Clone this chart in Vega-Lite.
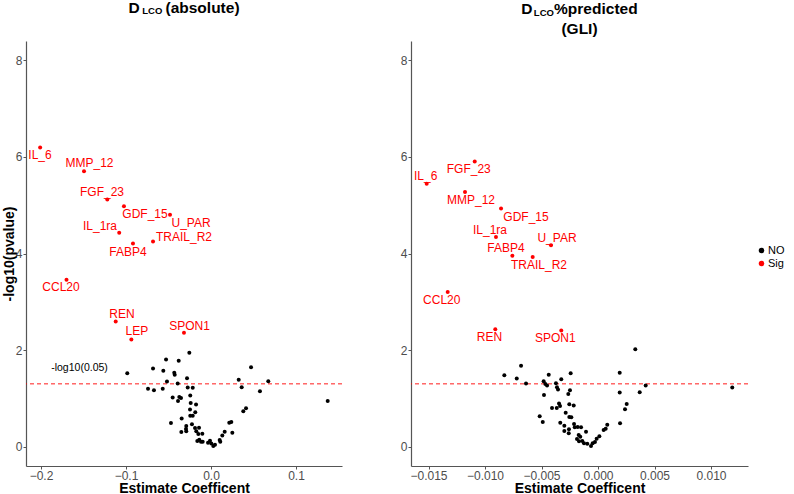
{
  "$schema": "https://vega.github.io/schema/vega-lite/v6.json",
  "background": "white",
  "padding": {"left": 2, "top": 0, "right": 2, "bottom": 2},
  "config": {
    "font": "Liberation Sans",
    "view": {"stroke": null},
    "axis": {
      "grid": false,
      "domainColor": "#555555",
      "domainWidth": 1.2,
      "tickColor": "#555555",
      "tickSize": 3,
      "labelColor": "#4D4D4D",
      "labelFont": "Liberation Sans",
      "labelFontSize": 12,
      "labelPadding": 1,
      "titleFont": "Liberation Sans",
      "titleFontSize": 14,
      "titleFontWeight": "bold",
      "titleColor": "black"
    },
    "title": {
      "font": "Liberation Sans",
      "fontSize": 15.5,
      "fontWeight": "bold",
      "color": "black",
      "subtitleFont": "Liberation Sans",
      "subtitleFontSize": 9.5,
      "subtitleFontWeight": "bold",
      "subtitleColor": "black",
      "anchor": "middle",
      "lineHeight": 19.5
    },
    "legend": {
      "labelFont": "Liberation Sans",
      "labelFontSize": 11,
      "labelColor": "black"
    }
  },
  "datasets": {
    "absolute": [
      {"protein": "IL_6", "est": -0.201, "logp": 6.197, "sig": "Sig", "lx": -0.2012, "ly": 6.037},
      {"protein": "MMP_12", "est": -0.1494, "logp": 5.705, "sig": "Sig", "lx": -0.1429, "ly": 5.871},
      {"protein": "FGF_23", "est": -0.122, "logp": 5.118, "sig": "Sig", "lx": -0.1282, "ly": 5.27},
      {"protein": "GDF_15", "est": -0.1024, "logp": 4.98, "sig": "Sig", "lx": -0.0776, "ly": 4.813},
      {"protein": "U_PAR", "est": -0.0482, "logp": 4.8, "sig": "Sig", "lx": -0.0235, "ly": 4.633},
      {"protein": "IL_1ra", "est": -0.108, "logp": 4.43, "sig": "Sig", "lx": -0.1306, "ly": 4.564},
      {"protein": "TRAIL_R2", "est": -0.0682, "logp": 4.246, "sig": "Sig", "lx": -0.0318, "ly": 4.342},
      {"protein": "FABP4", "est": -0.0918, "logp": 4.205, "sig": "Sig", "lx": -0.0976, "ly": 4.025},
      {"protein": "CCL20", "est": -0.17, "logp": 3.458, "sig": "Sig", "lx": -0.1765, "ly": 3.305},
      {"protein": "REN", "est": -0.1121, "logp": 2.593, "sig": "Sig", "lx": -0.1047, "ly": 2.745},
      {"protein": "LEP", "est": -0.0937, "logp": 2.22, "sig": "Sig", "lx": -0.0871, "ly": 2.386},
      {"protein": "SPON1", "est": -0.0318, "logp": 2.359, "sig": "Sig", "lx": -0.0253, "ly": 2.504},
      {"est": -0.0985, "logp": 1.521, "sig": "NO"},
      {"est": -0.0682, "logp": 1.618, "sig": "NO"},
      {"est": -0.0529, "logp": 1.805, "sig": "NO"},
      {"est": -0.038, "logp": 1.778, "sig": "NO"},
      {"est": -0.0255, "logp": 1.944, "sig": "NO"},
      {"est": -0.0561, "logp": 1.571, "sig": "NO"},
      {"est": -0.0432, "logp": 1.529, "sig": "NO"},
      {"est": -0.0427, "logp": 1.488, "sig": "NO"},
      {"est": -0.0282, "logp": 1.417, "sig": "NO"},
      {"est": -0.0518, "logp": 1.349, "sig": "NO"},
      {"est": -0.0392, "logp": 1.307, "sig": "NO"},
      {"est": -0.0741, "logp": 1.197, "sig": "NO"},
      {"est": -0.0671, "logp": 1.168, "sig": "NO"},
      {"est": -0.0568, "logp": 1.197, "sig": "NO"},
      {"est": -0.0274, "logp": 1.224, "sig": "NO"},
      {"est": -0.0215, "logp": 1.218, "sig": "NO"},
      {"est": -0.0451, "logp": 1.017, "sig": "NO"},
      {"est": -0.0373, "logp": 1.031, "sig": "NO"},
      {"est": -0.0353, "logp": 1.01, "sig": "NO"},
      {"est": -0.0388, "logp": 0.948, "sig": "NO"},
      {"est": -0.0244, "logp": 1.058, "sig": "NO"},
      {"est": -0.0239, "logp": 0.907, "sig": "NO"},
      {"est": -0.0176, "logp": 0.871, "sig": "NO"},
      {"est": -0.0247, "logp": 0.768, "sig": "NO"},
      {"est": -0.0185, "logp": 0.712, "sig": "NO"},
      {"est": -0.0244, "logp": 0.643, "sig": "NO"},
      {"est": -0.0215, "logp": 0.643, "sig": "NO"},
      {"est": -0.0345, "logp": 0.581, "sig": "NO"},
      {"est": -0.0471, "logp": 0.492, "sig": "NO"},
      {"est": -0.0224, "logp": 0.463, "sig": "NO"},
      {"est": -0.0291, "logp": 0.429, "sig": "NO"},
      {"est": -0.0294, "logp": 0.367, "sig": "NO"},
      {"est": -0.0188, "logp": 0.388, "sig": "NO"},
      {"est": -0.0141, "logp": 0.394, "sig": "NO"},
      {"est": -0.0349, "logp": 0.305, "sig": "NO"},
      {"est": -0.0291, "logp": 0.317, "sig": "NO"},
      {"est": -0.0173, "logp": 0.317, "sig": "NO"},
      {"est": -0.0149, "logp": 0.263, "sig": "NO"},
      {"est": -0.0102, "logp": 0.27, "sig": "NO"},
      {"est": -0.0138, "logp": 0.145, "sig": "NO"},
      {"est": -0.0118, "logp": 0.104, "sig": "NO"},
      {"est": -0.0161, "logp": 0.118, "sig": "NO"},
      {"est": -0.0098, "logp": 0.104, "sig": "NO"},
      {"est": -0.0035, "logp": 0.083, "sig": "NO"},
      {"est": 0.0004, "logp": 0.068, "sig": "NO"},
      {"est": -0.0012, "logp": 0.124, "sig": "NO"},
      {"est": 0.0027, "logp": 0.015, "sig": "NO"},
      {"est": 0.0047, "logp": 0.041, "sig": "NO"},
      {"est": 0.0102, "logp": 0.139, "sig": "NO"},
      {"est": 0.0109, "logp": 0.104, "sig": "NO"},
      {"est": 0.0161, "logp": 0.311, "sig": "NO"},
      {"est": 0.0133, "logp": 0.234, "sig": "NO"},
      {"est": 0.0215, "logp": 0.498, "sig": "NO"},
      {"est": 0.0239, "logp": 0.512, "sig": "NO"},
      {"est": 0.0251, "logp": 0.29, "sig": "NO"},
      {"est": 0.0326, "logp": 1.384, "sig": "NO"},
      {"est": 0.0361, "logp": 1.23, "sig": "NO"},
      {"est": 0.038, "logp": 0.732, "sig": "NO"},
      {"est": 0.0412, "logp": 0.795, "sig": "NO"},
      {"est": 0.0471, "logp": 1.645, "sig": "NO"},
      {"est": 0.0576, "logp": 1.147, "sig": "NO"},
      {"est": 0.0674, "logp": 1.355, "sig": "NO"},
      {"est": 0.1373, "logp": 0.948, "sig": "NO"}
    ],
    "predicted": [
      {"protein": "FGF_23", "est": -0.01091, "logp": 5.907, "sig": "Sig", "lx": -0.01144, "ly": 5.741},
      {"protein": "IL_6", "est": -0.01516, "logp": 5.442, "sig": "Sig", "lx": -0.01525, "ly": 5.595},
      {"protein": "MMP_12", "est": -0.01177, "logp": 5.276, "sig": "Sig", "lx": -0.01124, "ly": 5.104},
      {"protein": "GDF_15", "est": -0.00858, "logp": 4.931, "sig": "Sig", "lx": -0.00637, "ly": 4.766},
      {"protein": "IL_1ra", "est": -0.00903, "logp": 4.343, "sig": "Sig", "lx": -0.00956, "ly": 4.481},
      {"protein": "U_PAR", "est": -0.00416, "logp": 4.17, "sig": "Sig", "lx": -0.00363, "ly": 4.322},
      {"protein": "FABP4", "est": -0.00758, "logp": 3.956, "sig": "Sig", "lx": -0.00814, "ly": 4.114},
      {"protein": "TRAIL_R2", "est": -0.00578, "logp": 3.928, "sig": "Sig", "lx": -0.00522, "ly": 3.761},
      {"protein": "CCL20", "est": -0.0133, "logp": 3.202, "sig": "Sig", "lx": -0.01383, "ly": 3.029},
      {"protein": "REN", "est": -0.00909, "logp": 2.434, "sig": "Sig", "lx": -0.0096, "ly": 2.268},
      {"protein": "SPON1", "est": -0.00325, "logp": 2.407, "sig": "Sig", "lx": -0.00378, "ly": 2.255},
      {"est": -0.00829, "logp": 1.479, "sig": "NO"},
      {"est": -0.00719, "logp": 1.411, "sig": "NO"},
      {"est": -0.00681, "logp": 1.674, "sig": "NO"},
      {"est": -0.00637, "logp": 1.307, "sig": "NO"},
      {"est": -0.00481, "logp": 1.355, "sig": "NO"},
      {"est": -0.00436, "logp": 1.487, "sig": "NO"},
      {"est": -0.00466, "logp": 1.3, "sig": "NO"},
      {"est": -0.00451, "logp": 1.266, "sig": "NO"},
      {"est": -0.00372, "logp": 1.314, "sig": "NO"},
      {"est": -0.00325, "logp": 1.397, "sig": "NO"},
      {"est": -0.00242, "logp": 1.521, "sig": "NO"},
      {"est": -0.00363, "logp": 1.231, "sig": "NO"},
      {"est": -0.00354, "logp": 1.183, "sig": "NO"},
      {"est": -0.00478, "logp": 1.072, "sig": "NO"},
      {"est": -0.00263, "logp": 1.093, "sig": "NO"},
      {"est": -0.00248, "logp": 1.168, "sig": "NO"},
      {"est": -0.00407, "logp": 0.803, "sig": "NO"},
      {"est": -0.00365, "logp": 0.803, "sig": "NO"},
      {"est": -0.00345, "logp": 0.892, "sig": "NO"},
      {"est": -0.00336, "logp": 0.844, "sig": "NO"},
      {"est": -0.00254, "logp": 0.878, "sig": "NO"},
      {"est": -0.00215, "logp": 0.851, "sig": "NO"},
      {"est": -0.00286, "logp": 0.705, "sig": "NO"},
      {"est": -0.00516, "logp": 0.629, "sig": "NO"},
      {"est": -0.00489, "logp": 0.512, "sig": "NO"},
      {"est": -0.00254, "logp": 0.616, "sig": "NO"},
      {"est": -0.00236, "logp": 0.608, "sig": "NO"},
      {"est": -0.00334, "logp": 0.498, "sig": "NO"},
      {"est": -0.00298, "logp": 0.436, "sig": "NO"},
      {"est": -0.00212, "logp": 0.471, "sig": "NO"},
      {"est": -0.00206, "logp": 0.401, "sig": "NO"},
      {"est": -0.00298, "logp": 0.326, "sig": "NO"},
      {"est": -0.00259, "logp": 0.276, "sig": "NO"},
      {"est": -0.00257, "logp": 0.359, "sig": "NO"},
      {"est": -0.0018, "logp": 0.408, "sig": "NO"},
      {"est": -0.0015, "logp": 0.401, "sig": "NO"},
      {"est": -0.00106, "logp": 0.311, "sig": "NO"},
      {"est": -0.00171, "logp": 0.242, "sig": "NO"},
      {"est": -0.00157, "logp": 0.207, "sig": "NO"},
      {"est": -0.00186, "logp": 0.159, "sig": "NO"},
      {"est": -0.00168, "logp": 0.11, "sig": "NO"},
      {"est": -0.00139, "logp": 0.118, "sig": "NO"},
      {"est": -0.00124, "logp": 0.069, "sig": "NO"},
      {"est": -0.00095, "logp": 0.062, "sig": "NO"},
      {"est": -0.00062, "logp": 0.014, "sig": "NO"},
      {"est": -0.00047, "logp": 0.069, "sig": "NO"},
      {"est": -0.00027, "logp": 0.097, "sig": "NO"},
      {"est": -0.00012, "logp": 0.166, "sig": "NO"},
      {"est": 0.00012, "logp": 0.214, "sig": "NO"},
      {"est": 0.0005, "logp": 0.346, "sig": "NO"},
      {"est": 0.00068, "logp": 0.373, "sig": "NO"},
      {"est": 0.00082, "logp": 0.456, "sig": "NO"},
      {"est": 0.00192, "logp": 1.529, "sig": "NO"},
      {"est": 0.00192, "logp": 1.12, "sig": "NO"},
      {"est": 0.00195, "logp": 0.484, "sig": "NO"},
      {"est": 0.00239, "logp": 0.774, "sig": "NO"},
      {"est": 0.00254, "logp": 0.886, "sig": "NO"},
      {"est": 0.0033, "logp": 2.019, "sig": "NO"},
      {"est": 0.00369, "logp": 1.127, "sig": "NO"},
      {"est": 0.00422, "logp": 1.266, "sig": "NO"},
      {"est": 0.01188, "logp": 1.224, "sig": "NO"}
    ],
    "threshold": [{"logp": 1.30103}]
  },
  "hconcat": [
    {
      "width": 316,
      "height": 425,
      "title": {
        "text": "D\u00a0\u00a0\u00a0\u00a0\u00a0\u00a0(absolute)",
        "subtitle": "LCO\u00a0\u00a0\u00a0\u00a0\u00a0\u00a0\u00a0\u00a0\u00a0\u00a0\u00a0\u00a0\u00a0\u00a0\u00a0\u00a0\u00a0\u00a0\u00a0\u00a0\u00a0\u00a0\u00a0\u00a0\u200b",
        "subtitlePadding": -10,
        "offset": 25
      },
      "layer": [
        {
          "data": {"name": "threshold"},
          "mark": {"type": "rule", "color": "#FF0000", "strokeDash": [4, 3], "strokeWidth": 0.9},
          "encoding": {
            "y": {"field": "logp", "type": "quantitative", "title": "-log10(pvalue)", "scale": {"domain": [-0.4, 8.4], "nice": false, "zero": false}}
          }
        },
        {
          "data": {"values": [{"est": -0.1547, "logp": 1.639, "label": "-log10(0.05)"}]},
          "mark": {"type": "text", "fontSize": 10.5, "color": "black", "font": "Liberation Sans"},
          "encoding": {
            "x": {"field": "est", "type": "quantitative", "title": "Estimate Coefficent", "scale": {"domain": [-0.21765, 0.15412], "nice": false, "zero": false}},
            "y": {"field": "logp", "type": "quantitative", "title": "-log10(pvalue)", "scale": {"domain": [-0.4, 8.4], "nice": false, "zero": false}},
            "text": {"field": "label"}
          }
        },
        {
          "data": {"name": "absolute"},
          "mark": {"type": "point", "filled": true, "size": 16, "opacity": 1, "strokeWidth": 0},
          "encoding": {
            "x": {"field": "est", "type": "quantitative", "title": "Estimate Coefficent", "scale": {"domain": [-0.21765, 0.15412], "nice": false, "zero": false}, "axis": {"values": [-0.2, -0.1, 0, 0.1], "format": ".1f", "titlePadding": 0}},
            "y": {"field": "logp", "type": "quantitative", "title": "-log10(pvalue)", "scale": {"domain": [-0.4, 8.4], "nice": false, "zero": false}, "axis": {"values": [0, 2, 4, 6, 8], "titlePadding": -1}},
            "color": {
              "field": "sig",
              "type": "nominal",
              "scale": {"domain": ["NO", "Sig"], "range": ["#000000", "#FF0000"]},
              "legend": {"title": null, "orient": "none", "legendX": 730, "legendY": 204, "symbolType": "circle", "symbolSize": 30, "rowPadding": 1, "labelOffset": 1}
            }
          }
        },
        {
          "data": {"name": "absolute"},
          "transform": [{"filter": "datum.sig === 'Sig'"}],
          "mark": {"type": "text", "fontSize": 12, "color": "#FF0000", "font": "Liberation Sans"},
          "encoding": {
            "x": {"field": "lx", "type": "quantitative", "title": "Estimate Coefficent", "scale": {"domain": [-0.21765, 0.15412], "nice": false, "zero": false}},
            "y": {"field": "ly", "type": "quantitative", "title": "-log10(pvalue)", "scale": {"domain": [-0.4, 8.4], "nice": false, "zero": false}},
            "text": {"field": "protein"}
          }
        }
      ]
    },
    {
      "width": 337,
      "height": 425,
      "title": {
        "text": ["D\u00a0\u00a0\u00a0\u00a0\u00a0%predicted", "(GLI)"],
        "subtitle": "LCO\u00a0\u00a0\u00a0\u00a0\u00a0\u00a0\u00a0\u00a0\u00a0\u00a0\u00a0\u00a0\u00a0\u00a0\u00a0\u00a0\u00a0\u00a0\u00a0\u00a0\u00a0\u00a0\u00a0\u00a0\u00a0\u00a0\u00a0\u200b",
        "subtitlePadding": -29,
        "offset": 4
      },
      "layer": [
        {
          "data": {"name": "threshold"},
          "mark": {"type": "rule", "color": "#FF0000", "strokeDash": [4, 3], "strokeWidth": 0.9},
          "encoding": {
            "y": {"field": "logp", "type": "quantitative", "title": null, "scale": {"domain": [-0.4, 8.4], "nice": false, "zero": false}}
          }
        },
        {
          "data": {"name": "predicted"},
          "mark": {"type": "point", "filled": true, "size": 16, "opacity": 1, "strokeWidth": 0},
          "encoding": {
            "x": {"field": "est", "type": "quantitative", "title": "Estimate Coefficent", "scale": {"domain": [-0.016549, 0.013274], "nice": false, "zero": false}, "axis": {"values": [-0.015, -0.01, -0.005, 0, 0.005, 0.01], "format": ".3f", "titlePadding": 0}},
            "y": {"field": "logp", "type": "quantitative", "title": null, "scale": {"domain": [-0.4, 8.4], "nice": false, "zero": false}, "axis": {"values": [0, 2, 4, 6, 8]}},
            "color": {
              "field": "sig",
              "type": "nominal",
              "scale": {"domain": ["NO", "Sig"], "range": ["#000000", "#FF0000"]}
            }
          }
        },
        {
          "data": {"name": "predicted"},
          "transform": [{"filter": "datum.sig === 'Sig'"}],
          "mark": {"type": "text", "fontSize": 12, "color": "#FF0000", "font": "Liberation Sans"},
          "encoding": {
            "x": {"field": "lx", "type": "quantitative", "title": "Estimate Coefficent", "scale": {"domain": [-0.016549, 0.013274], "nice": false, "zero": false}},
            "y": {"field": "ly", "type": "quantitative", "title": null, "scale": {"domain": [-0.4, 8.4], "nice": false, "zero": false}},
            "text": {"field": "protein"}
          }
        }
      ]
    }
  ],
  "spacing": 69,
  "bounds": "flush",
  "resolve": {"scale": {"color": "shared"}}
}
